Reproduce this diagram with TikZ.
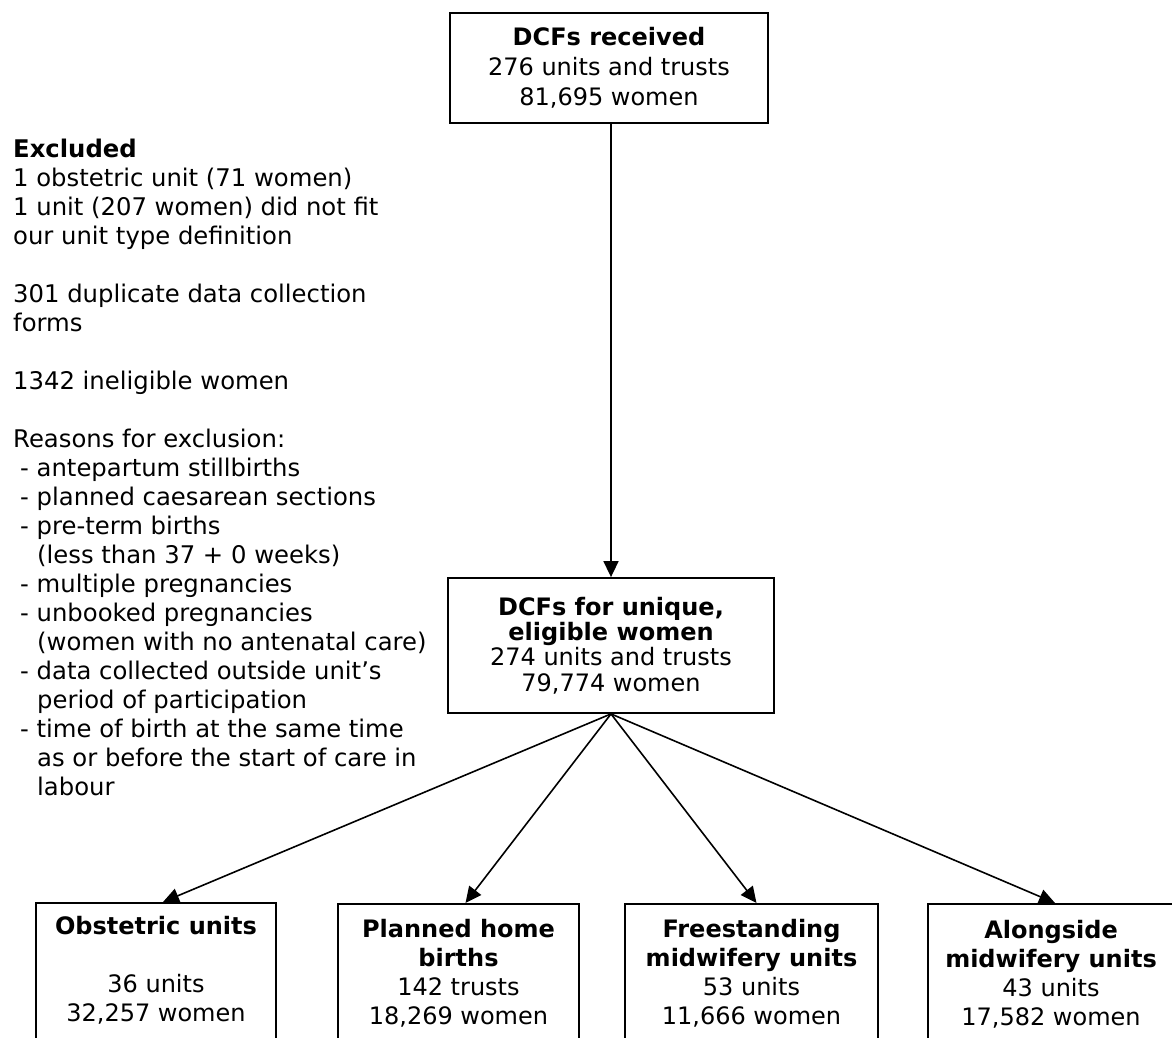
\documentclass[tikz,border=0pt]{standalone}
\usepackage{fontspec}
\setmainfont{DejaVu Sans}
\usetikzlibrary{arrows.meta,positioning}

\tikzset{
  flowbox/.style={draw, line width=1.8pt, align=center, inner sep=0pt},
  groupbox/.style={draw, line width=1.8pt, anchor=north, minimum height=180pt},
  boxtext/.style={align=center, inner sep=0pt},
  flowarrow/.style={-{Triangle[length=16pt,width=15pt]}, line width=1.6pt},
}

\begin{document}
\begin{tikzpicture}[x=1pt, y=-1pt, font=\fontsize{24.3}{29}\selectfont]
  \clip (0,0) rectangle (1172,1038);
  \fill[white] (0,0) rectangle (1172,1038);

  % main flow
  \node[flowbox, minimum width=318pt, minimum height=110pt,
        font=\fontsize{24}{30}\selectfont] (received) at (609,68)
    {\textbf{DCFs received}\\276 units and trusts\\81,695 women};
  \node[flowbox, minimum width=326pt, minimum height=135pt,
        font=\fontsize{24}{25.3}\selectfont] (eligible) at (611,645.5)
    {\textbf{DCFs for unique,}\\\textbf{eligible women}\\274 units and trusts\\79,774 women};

  % excluded forms
  \node[boxtext, align=left, anchor=north west] (excluded) at (13,139)
    {\textbf{Excluded}\\
     1 obstetric unit (71 women)\\
     1 unit (207 women) did not fit\\
     our unit type definition\\[29pt]
     301 duplicate data collection\\
     forms\\[29pt]
     1342 ineligible women\\[29pt]
     Reasons for exclusion:\\
     \hspace{7pt}- antepartum stillbirths\\
     \hspace{7pt}- planned caesarean sections\\
     \hspace{7pt}- pre-term births\\
     \hspace{24pt}(less than 37 + 0 weeks)\\
     \hspace{7pt}- multiple pregnancies\\
     \hspace{7pt}- unbooked pregnancies\\
     \hspace{24pt}(women with no antenatal care)\\
     \hspace{7pt}- data collected outside unit’s\\
     \hspace{24pt}period of participation\\
     \hspace{7pt}- time of birth at the same time\\
     \hspace{24pt}as or before the start of care in\\
     \hspace{24pt}labour};

  % unit types
  \node[groupbox, minimum width=240pt] (obstetric) at (156,902) {};
  \node[groupbox, minimum width=241pt] (home) at (458.5,903) {};
  \node[groupbox, minimum width=253pt] (freestanding) at (751.5,903) {};
  \node[groupbox, minimum width=246pt] (alongside) at (1051,903) {};

  \node[boxtext, anchor=north, below=14pt of obstetric.north, font=\fontsize{24}{29}\selectfont] (obstetrictxt)
    {\textbf{Obstetric units}\\[29pt]36 units\\32,257 women};
  \node[boxtext, anchor=north, below=16pt of home.north, font=\fontsize{24}{29}\selectfont] (hometxt)
    {\textbf{Planned home}\\\textbf{births}\\142 trusts\\18,269 women};
  \node[boxtext, anchor=north, below=16pt of freestanding.north, font=\fontsize{24}{29}\selectfont] (freestandingtxt)
    {\textbf{Freestanding}\\\textbf{midwifery units}\\53 units\\11,666 women};
  \node[boxtext, anchor=north, below=17pt of alongside.north, font=\fontsize{24}{29}\selectfont] (alongsidetxt)
    {\textbf{Alongside}\\\textbf{midwifery units}\\43 units\\17,582 women};

  % arrows
  \draw[flowarrow] ([xshift=2pt]received.south) -- (eligible.north);
  \draw[flowarrow] (eligible.south) -- ([xshift=7pt]obstetric.north);
  \draw[flowarrow] (eligible.south) -- ([xshift=7pt]home.north);
  \draw[flowarrow] (eligible.south) -- ([xshift=5pt]freestanding.north);
  \draw[flowarrow] (eligible.south) -- ([xshift=4pt]alongside.north);
\end{tikzpicture}
\end{document}
